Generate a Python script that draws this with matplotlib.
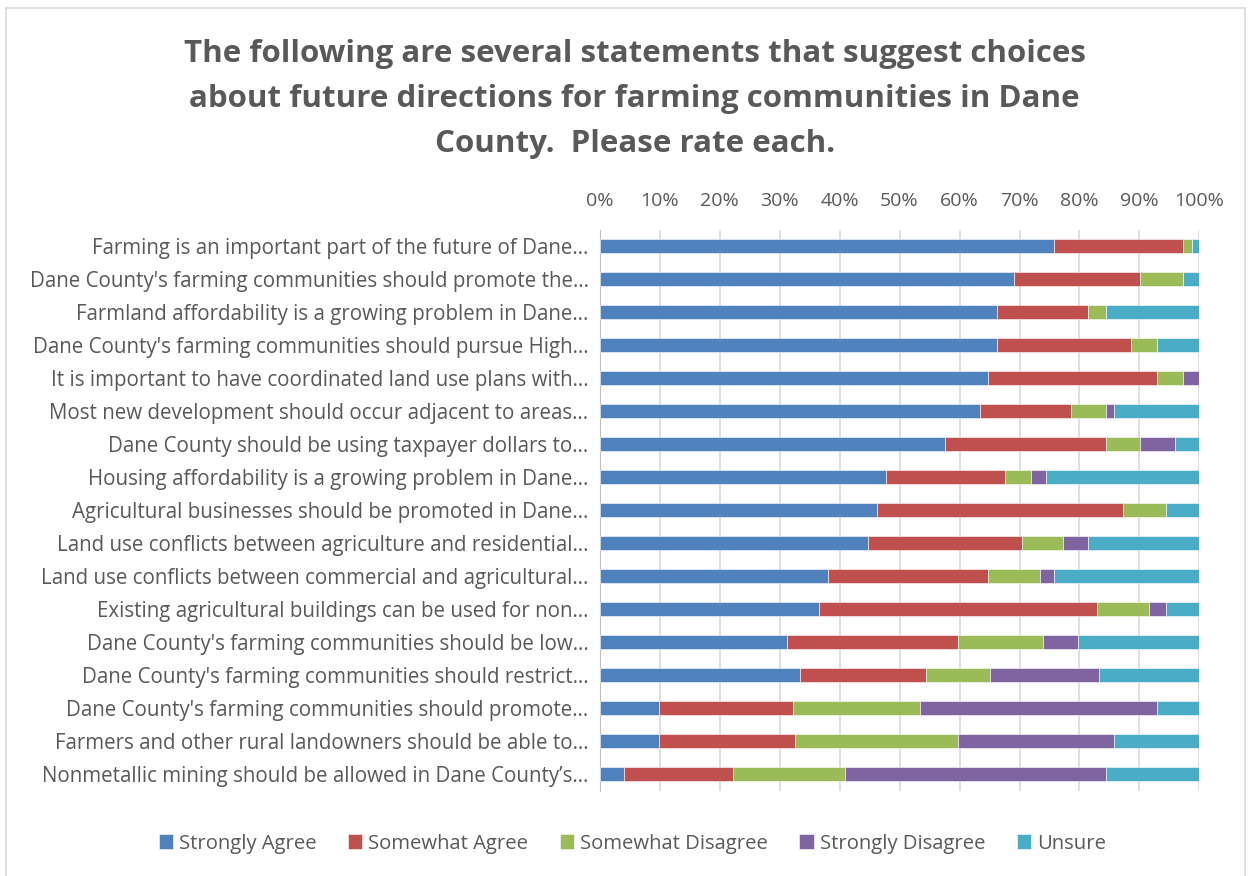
import numpy as np
import matplotlib.pyplot as plt
from matplotlib.patches import Rectangle

plt.rcParams['font.family'] = ['Open Sans', 'DejaVu Sans']

statements = [
    "Farming is an important part of the future of Dane\u2026",
    "Dane County's farming communities should promote the\u2026",
    "Farmland affordability is a growing problem in Dane\u2026",
    "Dane County's farming communities should pursue High\u2026",
    "It is important to have coordinated land use plans with\u2026",
    "Most new development should occur adjacent to areas\u2026",
    "Dane County should be using taxpayer dollars to\u2026",
    "Housing affordability is a growing problem in Dane\u2026",
    "Agricultural businesses should be promoted in Dane\u2026",
    "Land use conflicts between agriculture and residential\u2026",
    "Land use conflicts between commercial and agricultural\u2026",
    "Existing agricultural buildings can be used for non\u2026",
    "Dane County's farming communities should be low\u2026",
    "Dane County's farming communities should restrict\u2026",
    "Dane County's farming communities should promote\u2026",
    "Farmers and other rural landowners should be able to\u2026",
    "Nonmetallic mining should be allowed in Dane County\u2019s\u2026",
]

responses = ['Strongly Agree', 'Somewhat Agree', 'Somewhat Disagree',
             'Strongly Disagree', 'Unsure']
colors = ['#4F81BD', '#C0504D', '#9BBB59', '#8064A2', '#4BACC6']

# percentages per statement, same order as above
strongly_agree = [75.8, 69.1, 66.3, 66.3, 64.8, 63.4, 57.6, 47.8, 46.2,
                  44.8, 38.0, 36.6, 31.3, 33.4, 9.9, 9.9, 4.1]
somewhat_agree = [21.4, 21.0, 15.2, 22.3, 28.2, 15.2, 26.8, 19.8, 41.1,
                  25.6, 26.7, 46.3, 28.4, 21.0, 22.4, 22.7, 18.1]
somewhat_disagree = [1.5, 7.1, 3.0, 4.4, 4.3, 5.9, 5.7, 4.4, 7.1,
                     6.8, 8.7, 8.7, 14.3, 10.7, 21.1, 27.2, 18.7]
strongly_disagree = [0.0, 0.0, 0.0, 0.0, 2.7, 1.3, 5.8, 2.4, 0.0,
                     4.3, 2.3, 2.8, 5.8, 18.2, 39.6, 26.0, 43.6]
unsure = [1.3, 2.8, 15.5, 7.0, 0.0, 14.2, 4.1, 25.6, 5.6,
          18.5, 24.3, 5.6, 20.2, 16.7, 7.0, 14.2, 15.5]

series = [strongly_agree, somewhat_agree, somewhat_disagree,
          strongly_disagree, unsure]

fig = plt.figure(figsize=(12.52, 8.76), dpi=100)
ax = fig.add_axes([0.479, 0.0976, 0.479, 0.6404])

y = np.arange(len(statements))
left = np.zeros(len(statements))
for name, vals, col in zip(responses, series, colors):
    vals = np.array(vals)
    ax.barh(y, vals, left=left, height=0.42, color=col, label=name,
            edgecolor='white', linewidth=0.4, zorder=3)
    left += vals

ax.set_xlim(0, 100)
ax.set_ylim(len(statements) - 0.5, -0.5)
ax.set_yticks(y)
ax.set_yticklabels(statements, fontsize=14.8, color='#595959')
ax.set_xticks(np.arange(0, 101, 10))
ax.set_xticklabels([f'{v}%' for v in range(0, 101, 10)], fontsize=14,
                   color='#595959')
ax.xaxis.tick_top()
ax.tick_params(axis='y', length=0, pad=8)
ax.tick_params(axis='x', length=0, pad=14)
ax.grid(axis='x', color='#d9d9d9', linewidth=1.2, zorder=0)
for s in ['top', 'right', 'bottom']:
    ax.spines[s].set_visible(False)
ax.spines['left'].set_color('#bfbfbf')

fig.text(0.507, 0.956,
         "The following are several statements that suggest choices\n"
         "about future directions for farming communities in Dane\n"
         "County.  Please rate each.",
         ha='center', va='top', fontsize=22.5, fontweight='bold',
         color='#595959', linespacing=1.66)

fig.legend(loc='center', bbox_to_anchor=(0.505, 0.037), ncol=5,
           frameon=False, fontsize=14.6, handlelength=0.7, handleheight=0.7,
           handletextpad=0.3, columnspacing=1.55, labelcolor='#595959')

fig.patches.append(Rectangle((0.0048, -0.01), 0.990, 1.001,
                             transform=fig.transFigure, fill=False,
                             edgecolor='#d9d9d9', linewidth=1.2))

fig.savefig('out.png', dpi=100)
